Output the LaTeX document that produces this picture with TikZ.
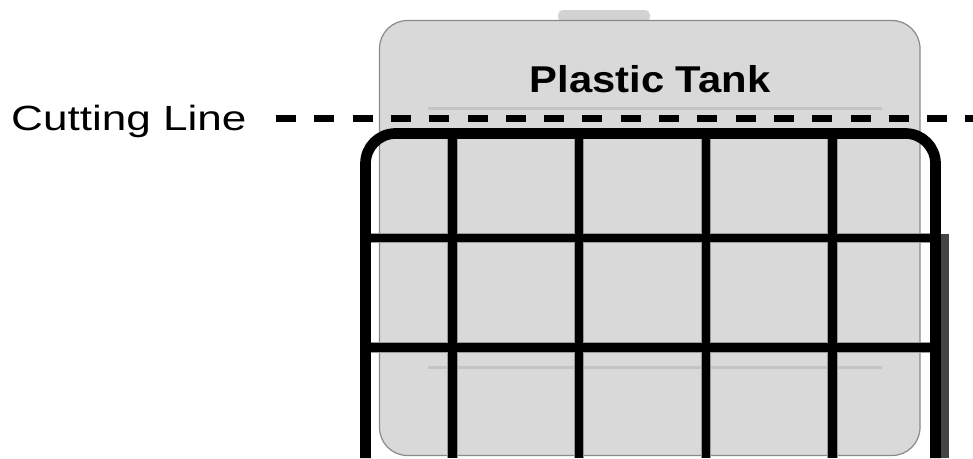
\documentclass[tikz,border=0pt]{standalone}
\usepackage{fontspec}
\setmainfont{Liberation Sans}
\usepackage{graphicx}
\definecolor{tankfill}{HTML}{D9D9D9}
\definecolor{tankedge}{HTML}{8A8A8A}
\definecolor{nubfill}{HTML}{D2D2D2}
\definecolor{faint}{HTML}{C4C4C4}
\definecolor{halo}{HTML}{9A9A9A}
\definecolor{darkbar}{HTML}{444444}
\tikzset{
  gridhalo/.style={draw=halo, line width=10.5pt},
  gridbar/.style={draw=black, line width=8.3pt},
  framebar/.style={draw=black, line width=10.7pt, rounded corners=30pt},
  faintline/.style={draw=faint, line width=3pt},
  cutline/.style={draw=black, line width=7.5pt, dash pattern=on 20pt off 18.3pt},
  lbl/.style={inner sep=0pt, font=\fontsize{35}{35}\selectfont},
  ttl/.style={inner sep=0pt, font=\fontsize{37.3}{37.3}\selectfont\bfseries}
}
\begin{document}
\begin{tikzpicture}[x=1pt, y=-1pt]
\useasboundingbox (0,0) rectangle (973,458);
% nub on top of the tank
\fill[nubfill, rounded corners=5pt] (558,10) rectangle (650,22);
% tank body
\draw[fill=tankfill, draw=tankedge, line width=1.2pt, rounded corners=28pt] (379.5,20.5) rectangle (920,455.5);
% faint internal lines
\draw[faintline] (428,108.3) -- (882,108.3);
\draw[faintline] (428.3,367.3) -- (882.3,367.3);
% title
\node[ttl, anchor=base] (title) at (650,92) {\scalebox{1.12}[1]{Plastic Tank}};
% cutting line
\node[lbl, anchor=base west] (cutlabel) at (11,130) {\scalebox{1.26}[1]{Cutting Line}};
\coordinate (cutstart) at (276,118.5);
\coordinate (cutend) at (973,118.5);
\draw[cutline] (cutstart) -- (cutend);
% dark side bar
\fill[darkbar] (940.7,234) rectangle (949.3,458);
% grid halos
\foreach \x in {452.5,579,706,832.5} {
  \draw[gridhalo] (\x,138) -- (\x,458);
}
\foreach \y in {238,347.5} {
  \draw[gridhalo] (370,\y) -- (931,\y);
}
% grid bars
\foreach \x in {452.5,579,706,832.5} {
  \draw[gridbar] (\x,134) -- (\x,458);
}
\foreach \y in {238,347.5} {
  \draw[gridbar] (365.5,\y) -- (935.5,\y);
}
% frame
\draw[framebar] (365.5,458) -- (365.5,133.5) -- (935.5,133.5) -- (935.5,458);
\end{tikzpicture}
\end{document}
